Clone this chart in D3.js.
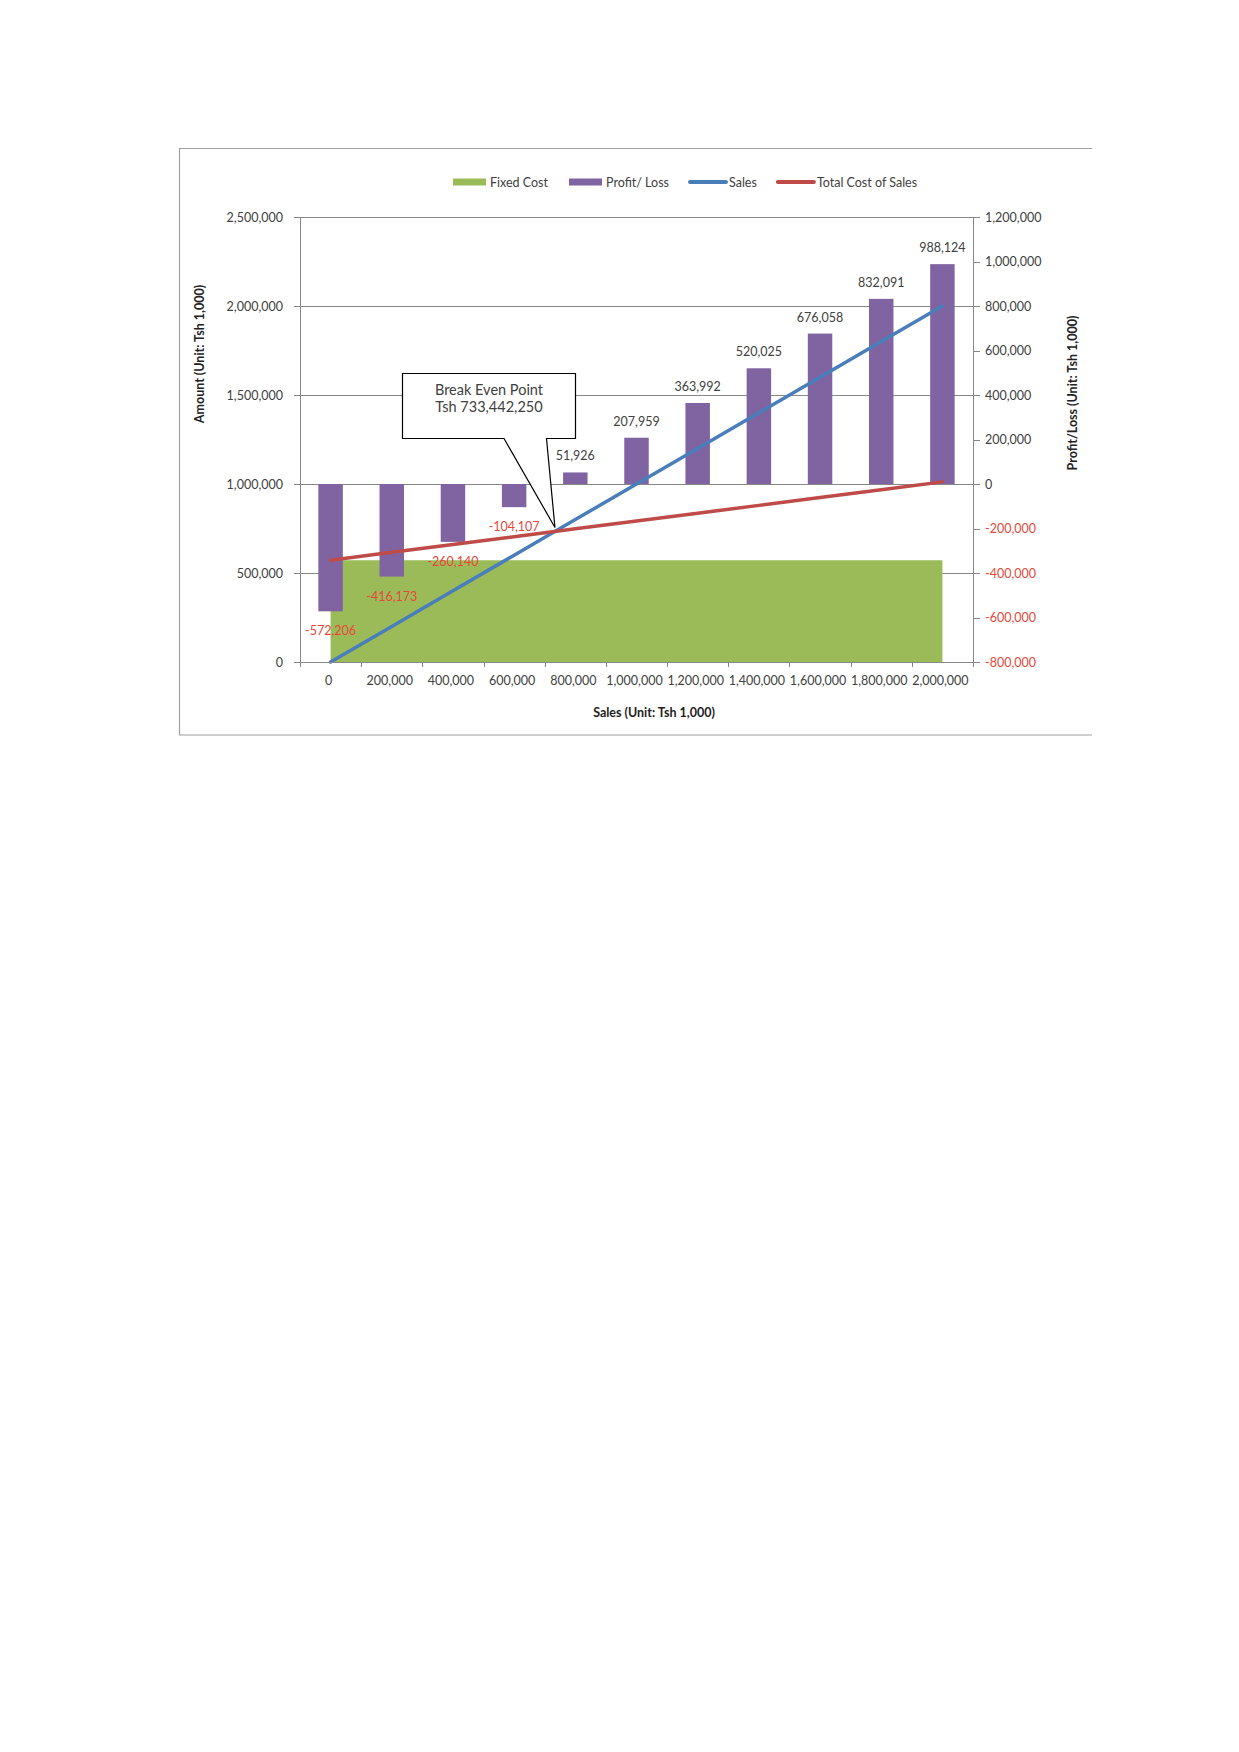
<!DOCTYPE html>
<html>
<head>
<meta charset="utf-8">
<script src="https://cdn.jsdelivr.net/npm/d3@7"></script>
<style>
  html, body { margin: 0; padding: 0; background: #fff; }
  svg text { font-family: Lato, "Open Sans", sans-serif; }
</style>
</head>
<body>
<svg id="chart" width="1239" height="1752"></svg>
<script>
// ---- data ----
const categories = [0, 200000, 400000, 600000, 800000, 1000000, 1200000, 1400000, 1600000, 1800000, 2000000];
const fixedCost  = [572206, 572206, 572206, 572206, 572206, 572206, 572206, 572206, 572206, 572206, 572206];
const profitLoss = [-572206, -416173, -260140, -104107, 51926, 207959, 363992, 520025, 676058, 832091, 988124];
const sales      = [0, 200000, 400000, 600000, 800000, 1000000, 1200000, 1400000, 1600000, 1800000, 2000000];
const totalCost  = [572206, 616173, 660140, 704107, 748074, 792041, 836008, 879975, 923942, 967909, 1011876];
const leftTicks  = [0, 500000, 1000000, 1500000, 2000000, 2500000];
const rightTicks = [-800000, -600000, -400000, -200000, 0, 200000, 400000, 600000, 800000, 1000000, 1200000];
const breakEven  = 733442;
const breakEvenText = ["Break Even Point", "Tsh 733,442,250"];
const legendItems = ["Fixed Cost", "Profit/ Loss", "Sales", "Total Cost of Sales"];

// ---- layout ----
const L = 300, R = 973, T = 217, B = 662;
const C = { green: "#9bbb59", purple: "#8064a2", blue: "#4a7ebb", red: "#be4b48",
            grid: "#878787", text: "#404040", neg: "#e8473a" };
const FS = 12.5;
const fmt = d3.formatLocale({ decimal: ".", thousands: ",", grouping: [3], currency: ["", ""], minus: "-" }).format(",");

const svg = d3.select("#chart");

// frame
svg.append("path")
  .attr("d", `M1092,148.5 H179.5 V735 H1092`)
  .attr("fill", "none").attr("stroke", "#a0a0a0").attr("stroke-width", 1.2);

const x = d3.scaleBand().domain(categories).range([L, R]).paddingInner(0).paddingOuter(0);
const cx = d => x(d) + x.bandwidth() / 2;
const xv = d3.scaleLinear().domain([categories[0], categories[categories.length - 1]])
  .range([cx(categories[0]), cx(categories[categories.length - 1])]);
const yL = d3.scaleLinear().domain([0, 2500000]).range([B, T]);
const yR = d3.scaleLinear().domain([-800000, 1200000]).range([B, T]);

// gridlines
svg.append("g").selectAll("line").data(leftTicks).join("line")
  .attr("x1", L).attr("x2", R)
  .attr("y1", d => Math.round(yL(d)) + 0.5).attr("y2", d => Math.round(yL(d)) + 0.5)
  .attr("stroke", C.grid).attr("stroke-width", 1);

// fixed cost area
const area = d3.area()
  .x((d, i) => cx(categories[i]))
  .y0(yL(0)).y1(d => yL(d));
svg.append("path").datum(fixedCost).attr("d", area).attr("fill", C.green);

// bars
const bw = x.bandwidth() / 2.5;
svg.append("g").selectAll("rect").data(profitLoss).join("rect")
  .attr("x", (d, i) => cx(categories[i]) - bw / 2)
  .attr("width", bw)
  .attr("y", d => Math.min(yR(d), yR(0)))
  .attr("height", d => Math.abs(yR(d) - yR(0)))
  .attr("fill", C.purple);

// lines
const line = d3.line().x((d, i) => cx(categories[i])).y(d => yL(d));
svg.append("path").datum(sales).attr("d", line)
  .attr("fill", "none").attr("stroke", C.blue).attr("stroke-width", 3.5).attr("stroke-linecap", "round");
svg.append("path").datum(totalCost).attr("d", line)
  .attr("fill", "none").attr("stroke", C.red).attr("stroke-width", 3.5).attr("stroke-linecap", "round");

// data labels
svg.append("g").selectAll("text").data(profitLoss).join("text")
  .attr("x", (d, i) => cx(categories[i]))
  .attr("y", d => d < 0 ? yR(d) + 24 : yR(d) - 12)
  .attr("text-anchor", "middle")
  .attr("font-size", FS)
  .attr("fill", d => d < 0 ? C.neg : C.text)
  .text(d => fmt(d));

// axes lines
svg.append("line").attr("x1", L + 0.5).attr("x2", L + 0.5).attr("y1", T).attr("y2", B)
  .attr("stroke", C.grid);
svg.append("line").attr("x1", R + 0.5).attr("x2", R + 0.5).attr("y1", T).attr("y2", B)
  .attr("stroke", C.grid);

// left axis
const gl = svg.append("g");
gl.selectAll("line").data(leftTicks).join("line")
  .attr("x1", L - 6).attr("x2", L)
  .attr("y1", d => Math.round(yL(d)) + 0.5).attr("y2", d => Math.round(yL(d)) + 0.5)
  .attr("stroke", C.grid);
gl.selectAll("text").data(leftTicks).join("text")
  .attr("x", L - 17).attr("y", d => yL(d) + 4.5)
  .attr("text-anchor", "end").attr("font-size", FS).attr("fill", C.text)
  .text(d => fmt(d));

// right axis
const gr = svg.append("g");
gr.selectAll("line").data(rightTicks).join("line")
  .attr("x1", R).attr("x2", R + 7)
  .attr("y1", d => Math.round(yR(d)) + 0.5).attr("y2", d => Math.round(yR(d)) + 0.5)
  .attr("stroke", C.grid);
gr.selectAll("text").data(rightTicks).join("text")
  .attr("x", R + 12).attr("y", d => yR(d) + 4.5)
  .attr("text-anchor", "start").attr("font-size", FS)
  .attr("fill", d => d < 0 ? C.neg : C.text)
  .text(d => fmt(d));

// x axis
const gx = svg.append("g");
gx.append("line").attr("x1", L).attr("x2", R).attr("y1", B + 0.5).attr("y2", B + 0.5).attr("stroke", C.grid);
const edges = categories.map(d => x(d)).concat([R]);
gx.selectAll("line.tk").data(edges).join("line").attr("class", "tk")
  .attr("x1", d => Math.round(d) + 0.5).attr("x2", d => Math.round(d) + 0.5)
  .attr("y1", B).attr("y2", B + 5).attr("stroke", C.grid);
gx.selectAll("text").data(categories).join("text")
  .attr("x", d => cx(d) - 2).attr("y", B + 23)
  .attr("text-anchor", "middle").attr("font-size", FS).attr("fill", C.text)
  .text(d => fmt(d));

// axis titles
svg.append("text").attr("transform", "translate(204,354) rotate(-90)")
  .attr("text-anchor", "middle").attr("font-size", FS).attr("font-weight", "bold").attr("fill", "#222")
  .text("Amount (Unit: Tsh 1,000)");
svg.append("text").attr("transform", "translate(1077,393) rotate(-90)")
  .attr("text-anchor", "middle").attr("font-size", FS).attr("font-weight", "bold").attr("fill", "#222")
  .text("Profit/Loss (Unit: Tsh 1,000)");
svg.append("text").attr("x", 654).attr("y", 717)
  .attr("text-anchor", "middle").attr("font-size", FS).attr("font-weight", "bold").attr("fill", "#222")
  .text("Sales (Unit: Tsh 1,000)");

// callout
const tipX = xv(breakEven), tipY = yL(breakEven) - 4;
const bx0 = 402.5, bx1 = 575.5, by0 = 373.5, by1 = 438.5;
const px0 = 504, px1 = 546.5;
svg.append("path")
  .attr("d", `M${bx0},${by0} H${bx1} V${by1} H${px1} L${tipX},${tipY} L${px0},${by1} H${bx0} Z`)
  .attr("fill", "#fff").attr("stroke", "#000").attr("stroke-width", 1.2);
svg.append("g").selectAll("text").data(breakEvenText).join("text")
  .attr("x", (bx0 + bx1) / 2).attr("y", (d, i) => 395 + i * 17)
  .attr("text-anchor", "middle").attr("font-size", 14.5).attr("fill", C.text)
  .text(d => d);

// legend
const lg = svg.append("g");
let lx = 453;
const ly = 182;
legendItems.forEach((name, i) => {
  if (i < 2) {
    lg.append("rect").attr("x", lx).attr("y", ly - 3.5).attr("width", 33).attr("height", 7)
      .attr("fill", i === 0 ? C.green : C.purple);
    lx += 37;
  } else {
    lg.append("line").attr("x1", lx).attr("x2", lx + 36).attr("y1", ly).attr("y2", ly)
      .attr("stroke", i === 2 ? C.blue : C.red).attr("stroke-width", 4).attr("stroke-linecap", "round");
    lx += 39;
  }
  const t = lg.append("text").attr("x", lx).attr("y", ly + 4.5).attr("font-size", FS).attr("fill", C.text).text(name);
  lx += t.node().getComputedTextLength() + 21;
});
</script>
</body>
</html>
